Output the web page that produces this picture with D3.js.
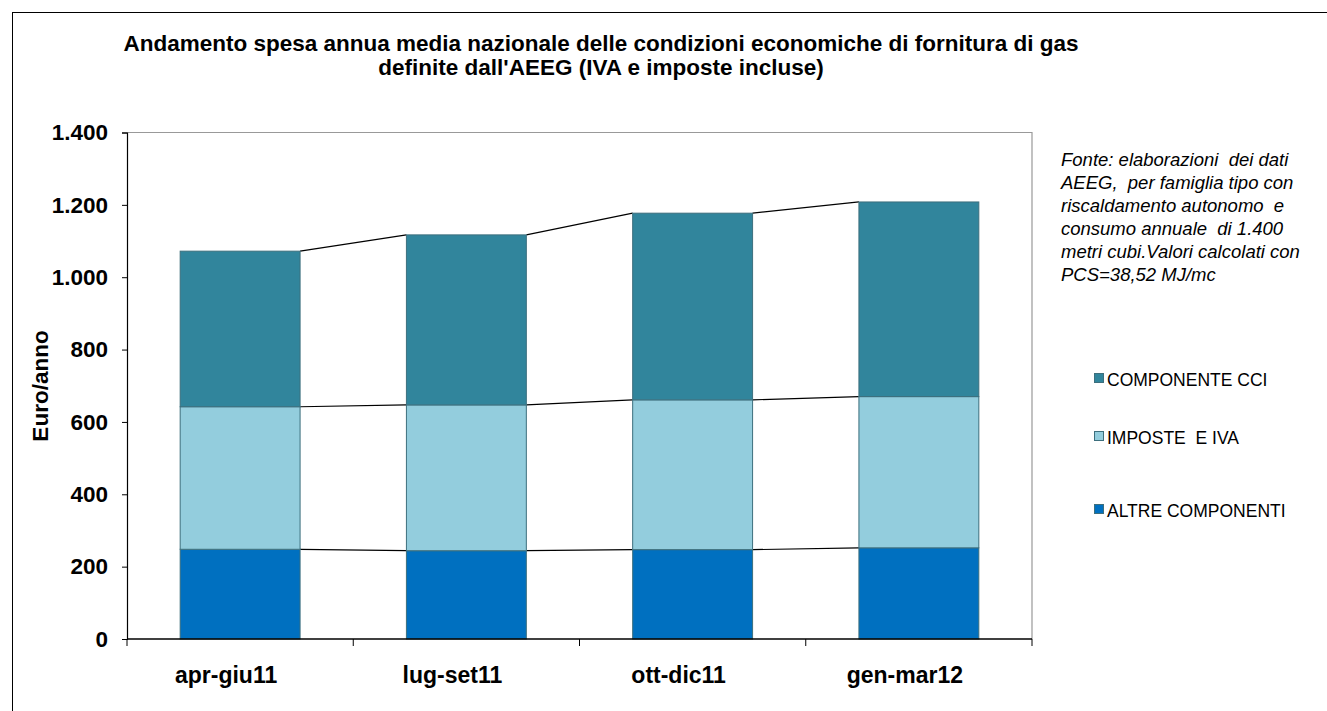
<!DOCTYPE html>
<html><head><meta charset="utf-8">
<script src="https://cdn.jsdelivr.net/npm/d3@7"></script>
<style>
html,body{margin:0;padding:0;background:#fff;}
svg text{font-family:"Liberation Sans",Arial,sans-serif;}
</style></head>
<body>
<svg id="c" width="1327" height="711"></svg>
<script>
const categories = ["apr-giu11","lug-set11","ott-dic11","gen-mar12"];
const altreComponenti = [248, 244, 247, 252];
const imposteIva = [394, 403, 414, 418];
const componenteCci = [430, 470, 516, 538];
const seriesNames = ["ALTRE COMPONENTI","IMPOSTE  E IVA","COMPONENTE CCI"];
const seriesColors = ["#0070C0","#93CDDD","#31859C"];
const yTicks = [0,200,400,600,800,1000,1200,1400];
const titleLines = ["Andamento spesa annua media nazionale delle condizioni economiche di fornitura di gas","definite dall'AEEG (IVA e imposte incluse)"];
const noteLines = ["Fonte: elaborazioni  dei dati","AEEG,  per famiglia tipo con","riscaldamento autonomo  e","consumo annuale  di 1.400","metri cubi.Valori calcolati con","PCS=38,52 MJ/mc"];

const svg = d3.select("#c");
const L = 127, R = 1032, T = 132.5, B = 639;
const BIG = "22.5px", SMALL = "18.5px", LEG = "17.5px";

// outer border
svg.append("rect").attr("x",12.5).attr("y",12.5).attr("width",1340).attr("height",720)
  .attr("fill","none").attr("stroke","#000").attr("stroke-width",1);

const x = d3.scaleBand().domain(categories).range([L,R]).paddingInner(0.47).paddingOuter(0.235);
const xb = d3.scaleBand().domain(categories).range([L,R]);
const y = d3.scaleLinear().domain([0,1400]).range([B,T]);

// plot area border (top/right)
svg.append("path").attr("d",`M${L},${T}H${R}V${B}`).attr("fill","none").attr("stroke","#999").attr("stroke-width",1.2);

const rows = categories.map((c,i)=>({cat:c, a:altreComponenti[i], b:imposteIva[i], c:componenteCci[i]}));
const stack = d3.stack().keys(["a","b","c"])(rows);

// series lines
stack.forEach(layer=>{
  for(let i=0;i<layer.length-1;i++){
    svg.append("line")
      .attr("x1", x(categories[i])+x.bandwidth()).attr("y1", y(layer[i][1]))
      .attr("x2", x(categories[i+1])).attr("y2", y(layer[i+1][1]))
      .attr("stroke","#000").attr("stroke-width",1.2);
  }
});

// bars
stack.forEach((layer,k)=>{
  svg.append("g").selectAll("rect").data(layer).join("rect")
    .attr("x", d=>x(d.data.cat))
    .attr("y", d=>y(d[1]))
    .attr("width", x.bandwidth())
    .attr("height", d=>y(d[0])-y(d[1]))
    .attr("fill", seriesColors[k])
    .attr("stroke","#3d6f7d").attr("stroke-width",1);
});

// y axis
const ya = svg.append("g").attr("transform",`translate(${L},0)`)
  .call(d3.axisLeft(y).tickValues(yTicks).tickSize(5).tickPadding(14)
    .tickFormat(d=>d3.format(",")(d).replace(/,/g,".")));
ya.select(".domain").attr("stroke","#000").attr("stroke-width",1.2);
ya.selectAll(".tick line").attr("stroke","#000");
ya.selectAll("text").attr("font-size",BIG).attr("font-weight","bold").attr("fill","#000")
  .attr("font-family","'Liberation Sans',Arial,sans-serif");

// x axis
const xa = svg.append("g").attr("transform",`translate(0,${B})`);
xa.append("line").attr("x1",L).attr("x2",R).attr("stroke","#000").attr("stroke-width",1.5);
const bounds = categories.map(c=>xb(c)).concat([R]);
xa.selectAll(".tk").data(bounds).join("line").attr("class","tk")
  .attr("x1",d=>d).attr("x2",d=>d).attr("y1",0).attr("y2",7).attr("stroke","#000");
xa.selectAll(".lb").data(categories).join("text").attr("class","lb")
  .attr("x",d=>xb(d)+xb.bandwidth()/2 - 14).attr("y",44)
  .attr("text-anchor","middle").attr("font-size","23px").attr("font-weight","bold").text(d=>d);

// y axis title
svg.append("text").attr("transform","translate(48,386) rotate(-90)")
  .attr("text-anchor","middle").attr("font-size",BIG).attr("font-weight","bold").text("Euro/anno");

// title
svg.append("g").selectAll("text").data(titleLines).join("text")
  .attr("x",601).attr("y",(d,i)=>51+i*24)
  .attr("text-anchor","middle").attr("font-size",BIG).attr("font-weight","bold")
  .style("white-space","pre").text(d=>d);

// note
svg.append("g").selectAll("text").data(noteLines).join("text")
  .attr("x",1061).attr("y",(d,i)=>166+i*23)
  .attr("font-size",SMALL).attr("font-style","italic").style("white-space","pre").text(d=>d);

// legend (reverse order)
const legY = [379, 437, 510];
const legOrder = [2,1,0];
legOrder.forEach((k,j)=>{
  svg.append("rect").attr("x",1094.5).attr("y",legY[j]-5.5).attr("width",9).attr("height",9)
    .attr("fill",seriesColors[k]).attr("stroke","#3d6f7d").attr("stroke-width",1);
  svg.append("text").attr("x",1107).attr("y",legY[j]+6.5).attr("font-size",LEG)
    .style("white-space","pre").text(seriesNames[k]);
});
</script>
</body></html>
